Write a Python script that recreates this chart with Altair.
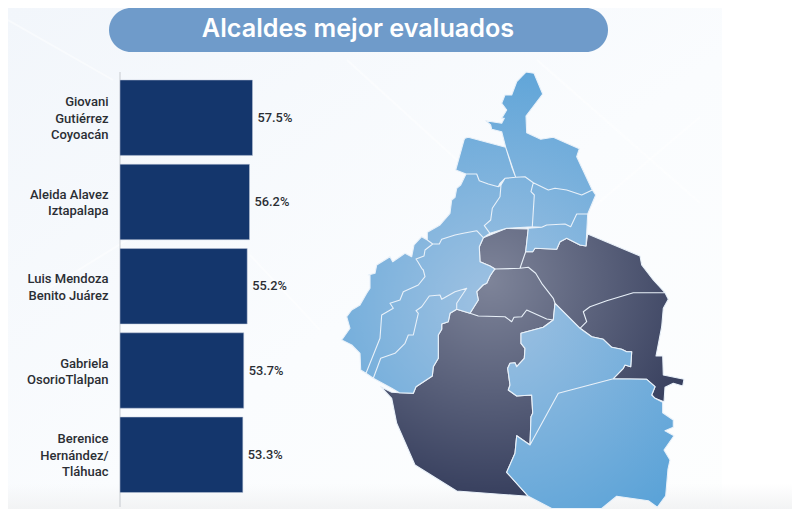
import altair as alt

TITLE = "Alcaldes mejor evaluados"
NAMES = ["Giovani\nGutiérrez\nCoyoacán", "Aleida Alavez\nIztapalapa", "Luis Mendoza\nBenito Juárez",
         "Gabriela\nOsorioTlalpan", "Berenice\nHernández/\nTláhuac"]
VALUES = [57.5, 56.2, 55.2, 53.7, 53.3]
LABELS = ["57.5%", "56.2%", "55.2%", "53.7%", "53.3%"]

# Map outlines
GAM = [(526,72),(534,73.3),(542.7,94),(526,116),(526.7,132.7),(540.7,139.3),(553.3,137.3),(579.3,148.7),(576.7,156.7),(592.3,190),(581.7,195),(566.7,190),(555,188.3),(548.3,190),(533.3,182.7),(525,176.7),(515.7,177.3),(505.7,147.3),(501.7,131.7),(491.7,129.3),(490.7,125),(485.7,120.7),(501.7,123.3),(504.3,118.3),(501.7,118.3),(506.7,110),(501.7,103.3),(505,95),(511.7,95),(516.7,81.7)]
AZC = [(465,138.3),(468.3,137.3),(505.7,147.3),(511.7,166.7),(515.7,177.3),(505,178.3),(500,183.3),(498.3,186.7),(488.3,184),(479.3,180.7),(476.7,174),(466,174),(455.7,170),(464,140)]
MH = [(466,174),(476.7,174),(479.3,180.7),(488.3,184),(498.3,186.7),(501,185),(500,196.7),(492.3,208.3),(490.7,220),(484.3,225.7),(490,233.3),(483.3,237.7),(476.7,230.7),(463.3,233.3),(455,235),(441.7,239.3),(439.3,244),(432.7,244),(427.3,240),(427.3,232.3),(440,225),(450,213.3),(451.7,200),(455,197.3),(456.7,188.3),(460.7,185)]
CUA = [(501,185),(505,178.3),(515.7,177.3),(525,176.7),(533.3,182.7),(531,191.7),(534.3,195),(532.3,226.7),(506.7,228.3),(490,233.3),(484.3,225.7),(490.7,220),(492.3,208.3),(500,196.7)]
VC = [(533.3,182.7),(548.3,190),(555,188.3),(566.7,190),(581.7,195),(592.3,190),(595.7,195),(587.7,214),(576.7,214),(570.7,226.7),(565,224),(546.7,225),(541.7,227.3),(532.3,226.7),(534.3,195),(531,191.7)]
IZC = [(528.3,228.3),(541.7,227.3),(546.7,225),(565,224),(570.7,226.7),(576.7,214),(587.7,214),(586,246),(580,245),(566.7,238.3),(560,241.7),(556.7,249.3),(535,248.3),(532.7,251.7),(525.7,251.7)]
XOC = [(555,303.3),(580,328.3),(591.7,336.7),(603.3,339.3),(611.7,347.3),(621.7,349.3),(626.7,351.7),(631.7,351.7),(630.7,366.7),(625,365),(623.3,368.3),(613.3,378.7),(558.3,393.3),(530,445),(531,416.7),(532.7,413.3),(531.7,395),(516.7,396),(508.3,390),(510,385),(507.7,368.3),(510,363.3),(515,362.7),(516.7,366.7),(524.3,358.3),(525,348.3),(521,343.3),(521,333.3),(543.3,327.3),(553.3,320)]
MIL = [(613.3,378.7),(646.7,379.3),(655,386.7),(651.7,395),(655,398.3),(662.7,402.3),(662.7,412.7),(673.3,420),(673.3,427.3),(665,430.7),(674,435.7),(664,450),(670,460),(668,469),(665.7,495.7),(657.3,507.3),(648.3,500.7),(616.7,496.3),(601.7,508.5),(551.7,508.5),(528.3,496.3),(506.7,472.3),(515,453.3),(516.7,435.7),(530,445),(558.3,393.3)]
MAG = [(466.7,288.3),(456.7,303.3),(456.7,309.3),(450,313.3),(448.3,321.7),(441.7,324),(441.7,329.3),(438.3,335),(438.3,358.3),(433.3,366.7),(432.3,376),(416,386.7),(413.3,393.3),(399.3,392.7),(391.7,388.3),(373.3,378.3),(380.7,358.3),(395,353.3),(405,343.3),(408.3,335),(413.3,335),(418.3,313.3),(416,310.7),(421.7,306.7),(429.3,296),(440,295),(441.7,299.3),(455,291.7)]
OBR = [(432.7,244),(439.3,244),(441.7,239.3),(455,235),(463.3,233.3),(476.7,230.7),(483.3,237.7),(479.3,246.7),(480,261.7),(490,266),(495,269),(494,270),(490,276),(486.7,283.3),(483,285),(476.7,291.7),(478.3,300),(470,313.3),(456.7,309.3),(456.7,303.3),(466.7,288.3),(455,291.7),(441.7,299.3),(440,295),(429.3,296),(421.7,306.7),(416,310.7),(418.3,313.3),(413.3,335),(408.3,335),(405,343.3),(395,353.3),(380.7,358.3),(373.3,378.3),(366,373.3),(380,338.3),(381.7,315),(393.3,308.3),(390,303.3),(400,300),(403.3,291.7),(418.3,285),(425,276.7),(423.3,270),(421.7,268.3),(418,262),(416,259),(424,256),(425,250)]
CUJ = [(368.3,275),(375,273.3),(376.7,265),(390,256.7),(392.7,261.7),(405,253.3),(411.7,256.7),(414,245),(421.7,236.7),(427.3,240),(432.7,244),(425,250),(424,256),(416,259),(418,262),(421.7,268.3),(423.3,270),(425,276.7),(418.3,285),(403.3,291.7),(400,300),(390,303.3),(393.3,308.3),(381.7,315),(380,338.3),(366,373.3),(360.7,370),(360,353.3),(351.7,345),(341.7,340),(350,328.3),(346.7,316.7),(351.7,310),(360,305),(366.7,293.3),(370,288.3),(370,275)]
BJ = [(483.3,237.7),(506.7,228.3),(528.3,229),(525.7,251.7),(520,268.3),(495,269),(490,266),(480,261.7),(479.3,246.7)]
IZT = [(525.7,251.7),(532.7,251.7),(535,248.3),(556.7,249.3),(560,241.7),(566.7,238.3),(580,245),(586,246),(587.7,234),(640,256),(641.7,265),(653.3,280),(665,292.7),(653.3,292.7),(633.3,292.7),(606.7,300.7),(590,306.7),(583.3,311.7),(586.7,321.7),(580,328.3),(555,303.3),(553.3,298.3),(541.7,283.3),(535.7,273.3),(528.3,267.3),(520,268.3)]
TLH = [(580,328.3),(586.7,321.7),(583.3,311.7),(590,306.7),(606.7,300.7),(633.3,292.7),(653.3,292.7),(665,292.7),(668.3,299.3),(663.3,308.3),(661.7,326.7),(656,356),(662.7,356),(663.3,375),(684,379.3),(682.7,386),(673.3,383.3),(665,387.3),(664,401.7),(655,398.3),(651.7,395),(655,386.7),(646.7,379.3),(613.3,378.7),(623.3,368.3),(625,365),(630.7,366.7),(631.7,351.7),(626.7,351.7),(621.7,349.3),(611.7,347.3),(603.3,339.3),(591.7,336.7)]
TLP = [(380.7,386.7),(391.7,392.3),(399.3,392.7),(413.3,393.3),(416,386.7),(432.3,376),(433.3,366.7),(438.3,358.3),(438.3,335),(441.7,329.3),(441.7,324),(448.3,321.7),(450,313.3),(456.7,309.3),(470,313.3),(478.3,316),(505,316.7),(511.7,321.7),(514,317.3),(521.7,316.7),(526.7,310),(546.7,319),(553.3,320),(543.3,327.3),(521,333.3),(521,343.3),(525,348.3),(524.3,358.3),(516.7,366.7),(515,362.7),(510,363.3),(507.7,368.3),(510,385),(508.3,390),(516.7,396),(531.7,395),(532.7,413.3),(531,416.7),(530,445),(516.7,435.7),(515,453.3),(506.7,472.3),(528.3,496.3),(456.7,491),(415,465),(396.7,423.3),(391.7,398.3)]
COY = [(495,269),(520,268.3),(528.3,267.3),(535.7,273.3),(541.7,283.3),(553.3,298.3),(555,303.3),(553.3,320),(546.7,319),(526.7,310),(521.7,316.7),(514,317.3),(511.7,321.7),(505,316.7),(478.3,316),(470,313.3),(478.3,300),(476.7,291.7),(483,285),(486.7,283.3),(490,276),(494,270)]

LIGHT = [GAM, AZC, MH, CUA, VC, IZC, XOC, MIL, MAG, OBR, CUJ]
DARK = [BJ, IZT, TLH, TLP, COY]

W, H = 784, 501
PX_PER_UNIT = 132.5 / 57.5
x_scale = alt.Scale(domain=[-112 / PX_PER_UNIT, (W - 112) / PX_PER_UNIT], nice=False, zero=False)
y_scale = alt.Scale(domain=NAMES, range=[72, 484.5], paddingInner=0.105, paddingOuter=0)


def feature(polys):
    return {"type": "Feature", "properties": {}, "geometry": {"type": "MultiPolygon",
            "coordinates": [[[list(p) for p in poly + poly[:1]]] for poly in polys]}}


def grad(x, y, r, c0, c1):
    return alt.RadialGradient(gradient="radial", x1=x, y1=y, r1=0, x2=x, y2=y, r2=r,
                              stops=[alt.GradientStop(color=c0, offset=0), alt.GradientStop(color=c1, offset=1)])


rows = alt.Data(values=[{"name": n, "value": v, "label": l, "zero": 0, "lines": n.count("\n") + 1}
                        for n, v, l in zip(NAMES, VALUES, LABELS)])
one = alt.Data(values=[{"zero": 0}])

backdrop = alt.Chart(one).mark_rect(clip=True, fill=alt.LinearGradient(
    gradient="linear", x1=0, y1=0, x2=1, y2=1,
    stops=[alt.GradientStop(color="#f2f6fb", offset=0), alt.GradientStop(color="#fafcfe", offset=0.55),
           alt.GradientStop(color="#fdfefe", offset=1)])).encode(
    x=alt.value(0), x2=alt.value(714), y=alt.value(0), y2=alt.value(H))
fade = alt.Chart(one).mark_rect(clip=True, fill=alt.LinearGradient(
    gradient="linear", x1=0, y1=0, x2=0, y2=1,
    stops=[alt.GradientStop(color="rgba(242,243,244,0)", offset=0), alt.GradientStop(color="rgba(242,243,244,1)", offset=1)])).encode(
    x=alt.value(0), x2=alt.value(W), y=alt.value(476), y2=alt.value(H))


def streak(x0, y0, x1, y1):
    return alt.Chart(one).mark_rule(color="#ffffff", strokeWidth=2, opacity=0.45, clip=True).encode(
        x=alt.value(x0 - 8), x2=alt.value(x1 - 8), y=alt.value(y0 - 8), y2=alt.value(y1 - 8))


streaks = [streak(8, 20, 113, 80), streak(347, 60, 457, 160), streak(537, 60, 700, 203),
           streak(700, 117, 590, 210), streak(240, 170, 30, 300), streak(250, 255, 320, 330)]

pill = alt.Chart(one).mark_rect(cornerRadius=22, fill="#6f9bca").encode(
    x=alt.value(101), x2=alt.value(600), y=alt.value(0), y2=alt.value(44))
title = alt.Chart(alt.Data(values=[{"t": TITLE}])).mark_text(
    font="Inter", fontSize=25.2, fontWeight=600, color="#ffffff").encode(
    text="t:N", x=alt.value(350), y=alt.value(20.5))

axis_line = alt.Chart(one).mark_rule(color="#c6cacf", strokeWidth=1).encode(
    x=alt.X("zero:Q", scale=x_scale, axis=None), y=alt.value(64), y2=alt.value(499))
bars = alt.Chart(rows).mark_bar(color="#14366c", stroke="#bcc7d8", strokeWidth=0.5).encode(
    x=alt.X("zero:Q", scale=x_scale, axis=None), x2="value:Q",
    y=alt.Y("name:N", scale=y_scale, axis=None, sort=NAMES))


def name_layer(lines, dy):
    return alt.Chart(rows).transform_filter(f"datum.lines == {lines}").mark_text(
        font="Roboto", fontSize=13, fontWeight=500, color="#2b2e34", align="right",
        lineBreak="\n", lineHeight=16.3, dx=-11.5, dy=dy).encode(
        x=alt.X("zero:Q", scale=x_scale, axis=None),
        y=alt.Y("name:N", scale=y_scale, axis=None, sort=NAMES), text="name:N")


names2 = name_layer(2, -7)
names3 = name_layer(3, -15.5)
vals = alt.Chart(rows).mark_text(font="Roboto", fontSize=12.8, fontWeight=500, color="#2b2e34", align="left", dx=5).encode(
    x=alt.X("value:Q", scale=x_scale, axis=None), y=alt.Y("name:N", scale=y_scale, axis=None, sort=NAMES), text="label:N")

light = alt.Chart(alt.Data(values=[feature(LIGHT)])).mark_geoshape(
    fill=grad(0.47, 0.53, 0.62, "#a0c2e2", "#57a1d7"), stroke="#e9f1f9", strokeWidth=1.1, strokeJoin="round", clip=True).project(
    type="identity", scale=1, translate=[-8, -8])
dark = alt.Chart(alt.Data(values=[feature(DARK)])).mark_geoshape(
    fill=grad(0.36, 0.23, 0.75, "#7e8499", "#343c5b"), stroke="#e9f1f9", strokeWidth=1.1, strokeJoin="round", clip=True).project(
    type="identity", scale=1, translate=[-8, -8])

chart = alt.layer(backdrop, fade, *streaks, pill, title, axis_line, bars, names2, names3, vals, dark, light).properties(
    width=W, height=H, padding=0, background="#ffffff",
    autosize=alt.AutoSizeParams(type="fit", contains="padding")
).configure_view(stroke=None)

chart.save("out.html", embed_options={"renderer": "svg", "actions": False})
